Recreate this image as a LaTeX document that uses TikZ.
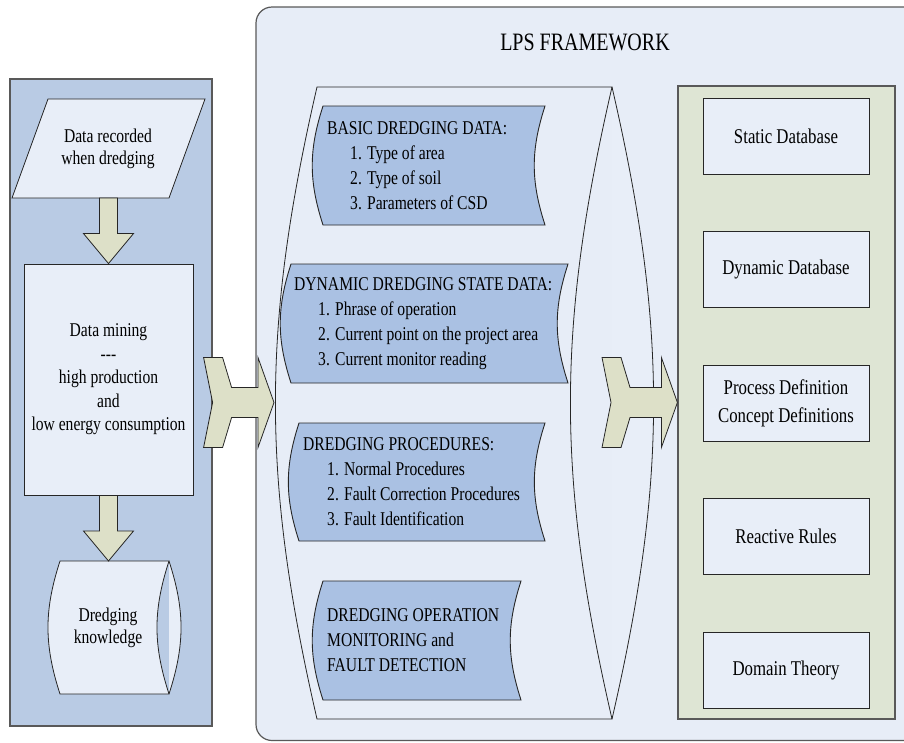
\documentclass[tikz,border=0pt]{standalone}
\usepackage{fontspec}
\setmainfont{Liberation Serif}[FakeStretch=0.8]
\usetikzlibrary{positioning,calc}

\definecolor{panelblue}{RGB}{185,203,228}
\definecolor{lightfill}{RGB}{232,238,248}
\definecolor{framefill}{RGB}{231,237,247}
\definecolor{itemblue}{RGB}{170,193,227}
\definecolor{kbgreen}{RGB}{222,229,212}
\definecolor{arrowfill}{RGB}{221,224,200}

% block arrow pointing down from the south of #1 to the north of #2
\newcommand{\downblock}[2]{%
  \draw[blockarrow] ($(#1.south)+(-9,0)$) -- ($(#1.south |- #2.north)+(-9,-30)$) -- ($(#1.south |- #2.north)+(-25,-30)$)
    -- (#1.south |- #2.north) -- ($(#1.south |- #2.north)+(25,-30)$) -- ($(#1.south |- #2.north)+(9,-30)$)
    -- ($(#1.south)+(9,0)$) -- cycle;}
% notched block arrow from coordinate #1 (tail) to coordinate #2 (tip)
\newcommand{\notchblock}[2]{%
  \draw[blockarrow] ($(#1)+(0,-45)$) -- ($(#1)+(19,-45)$) -- ($(#1)+(28,-15)$) -- ($(#2)+(-16,-15)$)
    -- ($(#2)+(-16,-45)$) -- (#2) -- ($(#2)+(-16,45)$) -- ($(#2)+(-16,15)$) -- ($(#1)+(28,15)$)
    -- ($(#1)+(19,45)$) -- ($(#1)+(0,45)$) -- ($(#1)+(9,0)$) -- cycle;}

\begin{document}
\begin{tikzpicture}[
    x=1pt, y=-1pt,
    font=\fontsize{19.5}{22}\selectfont,
    panel/.style={
        draw=black!65,
        line width=1.2pt,
        inner sep=0pt
    },
    geom/.style={
        inner sep=0pt,
        outer sep=0pt
    },
    lightshape/.style={
        draw=black!85,
        fill=lightfill,
        line width=0.8pt
    },
    itemshape/.style={
        draw=black!85,
        fill=itemblue,
        line width=0.9pt
    },
    dbbox/.style={
        draw=black!85,
        fill=lightfill,
        line width=0.9pt,
        minimum width=166,
        minimum height=76,
        align=center,
        inner sep=0pt,
        font=\fontsize{21}{22}\selectfont
    },
    itemtext/.style={
        anchor=west,
        align=left,
        inner sep=0pt,
        font=\fontsize{19.5}{25}\selectfont
    },
    blockarrow/.style={
        draw=black!85,
        fill=arrowfill,
        line width=0.8pt
    }
]
\useasboundingbox (0,0) rectangle (904,742);
\clip (0,0) rectangle (904,742);

% Data side
\node[panel, fill=panelblue, minimum width=202, minimum height=647] (source) at (111,402.5) {};
\node[geom, minimum width=157, minimum height=99] (rec) at (108.5,148.5) {};
\draw[lightshape] ([xshift=18]rec.north west) -- ([xshift=18]rec.north east)
    -- ([xshift=-18]rec.south east) -- ([xshift=-18]rec.south west) -- cycle;
\node[align=center] (rec-text) at (108,149) {Data recorded\\when dredging};
\node[dbbox, minimum width=169, minimum height=231, font=\fontsize{19.5}{23.5}\selectfont] (mining) at (108.5,379.5)
    {Data mining\\-{}-{}-\\high production\\and\\low energy consumption};
\node[geom, minimum width=109, minimum height=133] (knowledge) at (114.5,627.5) {};
\draw[lightshape] (knowledge.north west) to[bend right=18] (knowledge.south west)
    -- (knowledge.south east) to[bend left=18] (knowledge.north east) -- cycle;
\draw[lightshape] (knowledge.south east) to[bend right=18] (knowledge.north east);
\node[align=center] (knowledge-text) at (108,628) {Dredging\\knowledge};
\downblock{rec}{mining}
\downblock{mining}{knowledge}

% LPS framework
\draw[panel, fill=framefill, rounded corners=16] (256,7) rectangle (950,740.5);
\node[font=\fontsize{25}{30}\selectfont] (title) at (585,42) {LPS FRAMEWORK};
\node[geom, minimum width=295, minimum height=632] (store) at (464.5,403) {};
\draw[lightshape, fill=framefill] (store.north west) to[bend right=13] (store.south west)
    -- (store.south east) to[bend left=13] (store.north east) -- cycle;
\draw[lightshape] (store.south east) to[bend right=13] (store.north east);

% Data groups inside the store
\node[geom, minimum width=222, minimum height=119] (basic) at (434,165.5) {};
\draw[itemshape] (basic.north west) to[bend right=18] (basic.south west)
    -- (basic.south east) to[bend left=18] (basic.north east) -- cycle;
\node[itemtext] (basic-text) at ([xshift=4]basic.west)
    {BASIC DREDGING DATA:\\\hspace*{23pt}1. Type of area\\\hspace*{23pt}2. Type of soil\\\hspace*{23pt}3. Parameters of CSD};

\node[geom, minimum width=277, minimum height=119] (state) at (429.5,323.5) {};
\draw[itemshape] (state.north west) to[bend right=18] (state.south west)
    -- (state.south east) to[bend left=18] (state.north east) -- cycle;
\node[itemtext] (state-text) at ([xshift=3]state.west)
    {DYNAMIC DREDGING STATE DATA:\\\hspace*{24pt}1. Phrase of operation\\\hspace*{24pt}2. Current point on the project area\\\hspace*{24pt}3. Current monitor reading};

\node[geom, minimum width=246, minimum height=118] (procs) at (422,482) {};
\draw[itemshape] (procs.north west) to[bend right=18] (procs.south west)
    -- (procs.south east) to[bend left=18] (procs.north east) -- cycle;
\node[itemtext] (procs-text) at ([xshift=4]procs.west)
    {DREDGING PROCEDURES:\\\hspace*{24pt}1. Normal Procedures\\\hspace*{24pt}2. Fault Correction Procedures\\\hspace*{24pt}3. Fault Identification};

\node[geom, minimum width=198, minimum height=119] (monitor) at (422,640.5) {};
\draw[itemshape] (monitor.north west) to[bend right=18] (monitor.south west)
    -- (monitor.south east) to[bend left=18] (monitor.north east) -- cycle;
\node[itemtext] (monitor-text) at ([xshift=4]monitor.west)
    {DREDGING OPERATION\\MONITORING and\\FAULT DETECTION};

% Knowledge base
\node[panel, fill=kbgreen, minimum width=217, minimum height=633] (kb) at (786.5,402.5) {};
\node[dbbox] (static) at (786,136) {Static Database};
\node[dbbox] (dynamic) at (786,269.5) {Dynamic Database};
\node[dbbox, font=\fontsize{21}{28}\selectfont] (process) at (786,403) {Process Definition\\Concept Definitions};
\node[dbbox] (rules) at (786,536) {Reactive Rules};
\node[dbbox] (domain) at (786,670) {Domain Theory};

% Flow between the parts
\coordinate (in-tail) at ([xshift=-9]source.east);
\coordinate (in-tip) at ($(store.west)+(-43,-0.5)$);
\notchblock{in-tail}{in-tip}
\coordinate (out-tail) at ([xshift=-10,yshift=0.5]store.east);
\notchblock{out-tail}{kb.west}

\end{tikzpicture}
\end{document}
